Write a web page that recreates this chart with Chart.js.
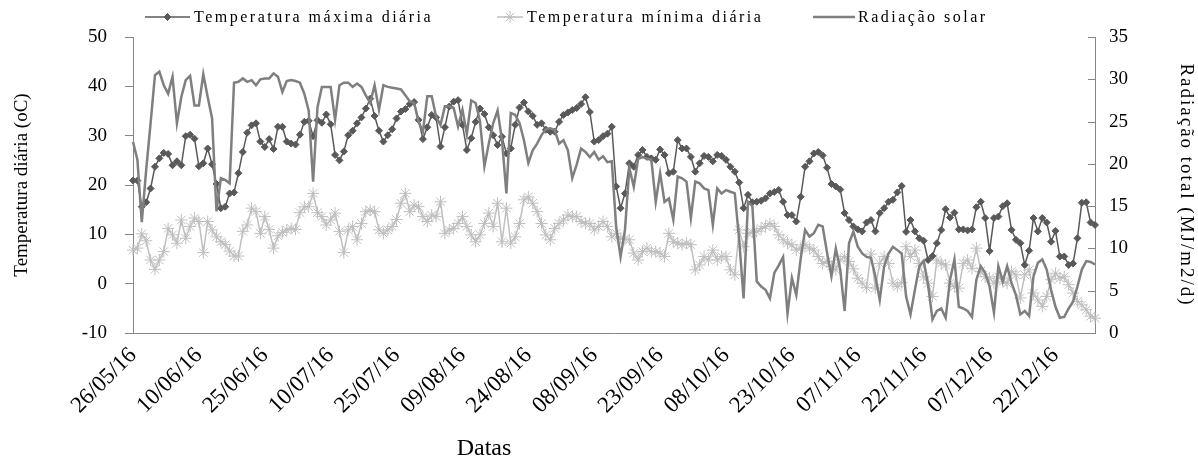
<!DOCTYPE html>
<html>
<head>
<meta charset="utf-8">
<script src="https://cdn.jsdelivr.net/npm/chart.js@4.4.1/dist/chart.umd.min.js"></script>
<style>
html,body{margin:0;padding:0;background:#fff;}
</style>
</head>
<body>
<canvas id="grafico" width="1198" height="458"></canvas>
<script>
// rótulos do eixo x (a cada 15 dias)
const rotulosEixo = ['26/05/16','10/06/16','25/06/16','10/07/16','25/07/16','09/08/16','24/08/16','08/09/16',
  '23/09/16','08/10/16','23/10/16','07/11/16','22/11/16','07/12/16','22/12/16'];

// temperatura máxima diária (oC), 26/05/16 a 31/12/16
const tempMax = [
  20.9,20.9,15.6,16.5,19.3,23.7,25.4,26.5,26.3,24.0,
  24.8,24.0,29.9,30.2,29.4,23.8,24.4,27.4,24.2,20.2,
  15.3,15.6,18.3,18.5,22.4,26.7,30.6,32.1,32.5,28.8,
  27.7,29.3,27.3,31.8,31.8,28.8,28.4,28.2,30.2,32.8,
  33.0,29.9,33.1,32.6,34.3,32.3,26.1,25.0,26.8,30.1,
  31.0,32.5,33.7,35.5,37.5,34.0,31.0,28.8,30.1,31.3,
  33.5,34.9,35.4,36.4,36.8,33.2,29.3,31.7,34.2,33.7,
  27.8,31.7,35.9,36.9,37.2,32.2,27.1,29.5,32.8,35.5,
  34.4,31.7,30.1,28.1,29.8,26.4,27.4,32.2,35.7,36.7,
  34.9,34.0,32.2,32.5,31.2,30.8,30.8,32.8,34.2,34.7,
  35.2,35.6,36.4,37.8,34.8,28.8,29.1,29.9,30.4,31.8,
  19.7,15.3,18.3,24.4,23.7,26.1,27.1,25.7,25.4,25.1,
  27.2,26.1,22.4,22.7,29.1,27.4,27.4,25.7,22.7,24.4,
  25.9,25.7,24.8,26.1,25.9,25.1,23.7,22.7,20.5,15.3,
  18.0,16.5,16.6,16.8,17.3,18.3,18.6,19.0,16.6,13.9,
  13.9,12.6,17.6,23.7,24.8,26.4,26.7,26.0,23.5,20.2,
  19.7,19.1,14.3,12.9,11.6,11.0,10.6,12.4,12.9,10.6,
  14.3,15.3,16.6,17.0,18.5,19.8,10.5,12.9,10.6,9.2,
  8.7,4.8,5.6,8.2,10.9,15.1,13.4,14.4,11.0,11.0,
  10.8,11.0,15.5,16.6,13.3,6.6,13.3,13.6,15.7,16.3,
  10.9,8.9,8.2,3.8,6.7,13.3,10.6,13.3,12.4,8.5,
  10.7,5.5,5.5,3.8,4.1,9.2,16.4,16.5,12.4,11.9
];

// temperatura mínima diária (oC)
const tempMin = [
  6.8,7.2,10.1,8.7,4.8,2.9,4.8,6.5,11.2,9.9,
  8.2,12.9,9.2,11.6,13.3,12.6,6.3,12.6,10.9,9.5,
  8.5,7.9,6.6,5.6,5.6,10.6,11.9,15.3,14.6,10.2,
  13.6,11.0,7.2,9.7,10.4,10.9,11.2,11.0,14.4,15.6,
  15.6,18.3,14.4,13.6,11.9,12.9,14.3,10.6,6.3,10.9,
  11.6,8.9,12.2,14.6,14.9,14.6,10.9,10.2,10.9,11.6,
  13.0,16.3,18.3,14.6,15.9,15.6,13.6,12.6,13.9,13.6,
  16.6,10.2,10.9,11.2,12.2,13.6,11.6,9.9,8.5,9.9,
  12.2,14.3,11.6,16.3,8.5,15.3,8.2,9.5,12.2,17.0,
  17.6,16.3,14.6,12.2,9.9,8.9,11.2,12.2,12.9,13.9,
  13.6,13.6,12.6,12.2,12.2,10.9,11.6,12.6,11.6,9.5,
  10.2,9.2,9.0,8.9,6.2,4.8,6.5,7.2,6.5,6.5,
  6.2,5.5,10.2,8.5,8.2,7.9,8.2,7.9,2.8,3.8,
  5.5,4.8,6.8,4.8,5.5,5.5,2.8,1.8,10.9,7.5,
  10.2,10.4,10.6,11.2,11.6,12.2,11.6,9.9,8.9,8.2,
  7.9,6.8,7.2,7.9,7.2,6.8,5.5,4.1,4.5,3.5,
  2.8,4.8,5.5,4.5,3.0,1.1,0.1,-0.8,6.0,-0.9,
  4.1,5.5,4.1,0.1,-0.6,0.2,7.5,5.5,6.8,4.1,
  1.4,0.1,-2.6,4.8,4.1,3.8,0.1,-0.6,-0.9,4.1,
  4.8,3.1,7.2,2.5,1.4,1.1,0.1,1.4,0.4,0.1,
  2.5,1.8,-2.9,1.8,2.8,-1.9,-3.3,-4.6,-2.6,0.8,
  2.1,1.1,1.4,-0.2,-1.9,-3.6,-4.3,-5.3,-6.6,-7.0
];

// radiação solar total (MJ/m2/d)
const radiacao = [
  22.6,20.5,13.1,19.3,24.8,30.5,30.9,29.3,28.3,30.3,
  24.8,27.9,29.9,30.4,26.9,26.9,30.6,27.9,25.4,14.4,
  18.3,18.1,17.7,29.6,29.7,30.1,29.7,29.9,29.3,30.0,
  30.1,30.1,30.7,30.3,28.5,29.8,29.9,29.8,29.6,28.3,
  26.3,17.9,26.7,29.1,29.1,29.1,25.2,29.3,29.6,29.6,
  29.1,29.5,29.1,28.1,27.2,29.3,26.4,29.3,29.1,29.0,
  28.9,28.8,28.1,27.4,27.2,25.0,23.8,28.0,28.0,25.6,
  24.6,26.8,26.8,26.6,24.4,26.4,23.5,27.5,27.2,25.0,
  19.7,22.4,24.8,26.3,22.8,16.5,26.0,25.8,24.8,22.8,
  20.1,21.6,22.4,23.4,24.1,24.2,24.0,22.4,22.8,21.6,
  18.3,19.9,21.8,21.4,20.8,21.4,20.5,20.9,20.2,20.3,
  12.5,9.0,12.2,19.5,17.3,20.6,20.8,20.6,20.5,15.5,
  18.9,15.5,15.9,13.4,18.5,18.3,17.9,13.6,17.9,17.7,
  17.1,16.9,12.8,17.1,16.5,16.9,16.7,16.5,11.0,4.1,
  15.5,15.0,6.1,5.5,5.1,4.1,7.1,8.0,9.0,2.3,
  6.5,4.5,8.8,12.2,11.4,11.8,12.8,12.6,9.5,6.7,
  10.0,7.5,2.6,10.6,12.0,10.2,9.4,9.0,8.9,6.7,
  3.9,7.9,9.4,10.2,9.8,9.4,4.3,2.2,5.1,7.9,
  8.5,5.7,1.6,2.6,2.9,1.8,6.3,8.7,3.1,2.9,
  2.6,1.9,6.3,7.9,7.1,5.5,2.4,7.9,6.1,7.9,
  5.9,4.5,2.2,2.6,2.0,6.7,8.3,8.7,7.5,5.1,
  3.1,1.8,1.9,2.9,3.7,5.5,7.5,8.5,8.4,8.1
];

// um rótulo por dia, começando em 26/05/16
const datas = tempMax.map((_, i) => {
  const d = new Date(2016, 4, 26 + i);
  const p = n => String(n).padStart(2, '0');
  return p(d.getDate()) + '/' + p(d.getMonth() + 1) + '/' + String(d.getFullYear()).slice(2);
});

const serif = "'Liberation Serif', 'Times New Roman', serif";
const cinzaEixo = '#868686';
Chart.defaults.font.family = serif;
Chart.defaults.color = '#000';

// legenda desenhada à mão: linha + marcador como no Excel
const legenda = {
  id: 'legenda',
  afterDraw(chart) {
    const ctx = chart.ctx;
    const itens = [
      {ds: 0, x0: 145, x1: 190, tx: 194},
      {ds: 1, x0: 497, x1: 523, tx: 527},
      {ds: 2, x0: 813, x1: 855, tx: 858}
    ];
    const y = 17;
    ctx.save();
    itens.forEach(it => {
      const ds = chart.data.datasets[it.ds];
      ctx.strokeStyle = ds.borderColor;
      ctx.lineWidth = ds.borderWidth;
      ctx.beginPath();
      ctx.moveTo(it.x0, y);
      ctx.lineTo(it.x1, y);
      ctx.stroke();
      if (ds.pointRadius > 0) {
        ctx.fillStyle = ds.pointBackgroundColor;
        ctx.strokeStyle = ds.pointBorderColor;
        ctx.lineWidth = ds.pointBorderWidth;
        Chart.helpers.drawPoint(ctx, {pointStyle: ds.pointStyle, radius: ds.pointRadius, borderWidth: ds.pointBorderWidth, rotation: 0}, (it.x0 + it.x1) / 2, y);
      }
      ctx.fillStyle = '#000';
      ctx.font = '16px ' + serif;
      ctx.letterSpacing = '2.5px';
      ctx.textBaseline = 'middle';
      ctx.textAlign = 'left';
      ctx.fillText(ds.label, it.tx, y + 1);
      ctx.letterSpacing = '0px';
    });
    ctx.restore();
  }
};

// marcas do eixo secundário viradas para dentro
const marcasDireita = {
  id: 'marcasDireita',
  afterDatasetsDraw(chart) {
    const s = chart.scales.y2;
    const ctx = chart.ctx;
    ctx.save();
    ctx.strokeStyle = cinzaEixo;
    ctx.lineWidth = 1;
    s.ticks.forEach(t => {
      const py = Math.round(s.getPixelForValue(t.value)) + 0.5;
      ctx.beginPath();
      ctx.moveTo(s.left, py);
      ctx.lineTo(s.left - 7, py);
      ctx.stroke();
    });
    ctx.restore();
  }
};

// títulos fora do padrão: "Datas" deslocado e o eixo da direita espaçado
const titulos = {
  id: 'titulos',
  afterDraw(chart) {
    const ctx = chart.ctx;
    const a = chart.chartArea;
    ctx.save();
    ctx.fillStyle = '#000';
    ctx.textAlign = 'center';
    ctx.font = '24px ' + serif;
    ctx.textBaseline = 'alphabetic';
    ctx.fillText('Datas', 484, 455);
    ctx.translate(1186, (a.top + a.bottom) / 2);
    ctx.rotate(Math.PI / 2);
    ctx.font = '19px ' + serif;
    ctx.letterSpacing = '2px';
    ctx.textBaseline = 'middle';
    ctx.fillText('Radiação total (MJ/m2/d)', 0, 0);
    ctx.restore();
  }
};

new Chart(document.getElementById('grafico'), {
  type: 'line',
  data: {
    labels: datas,
    datasets: [
      {
        label: 'Temperatura máxima diária',
        data: tempMax,
        yAxisID: 'y',
        borderColor: '#595959',
        borderWidth: 1.5,
        pointStyle: 'rectRot',
        pointRadius: 3.5,
        pointBackgroundColor: '#595959',
        pointBorderColor: '#595959',
        pointBorderWidth: 1,
        tension: 0,
        order: 2
      },
      {
        label: 'Temperatura mínima diária',
        data: tempMin,
        yAxisID: 'y',
        borderColor: '#BFBFBF',
        borderWidth: 1.5,
        pointStyle: 'star',
        pointRadius: 6,
        pointBackgroundColor: '#BFBFBF',
        pointBorderColor: '#BFBFBF',
        pointBorderWidth: 1,
        tension: 0,
        order: 3
      },
      {
        label: 'Radiação solar',
        data: radiacao,
        yAxisID: 'y2',
        borderColor: '#7F7F7F',
        borderWidth: 2.5,
        pointRadius: 0,
        tension: 0,
        order: 1
      }
    ]
  },
  options: {
    responsive: false,
    animation: false,
    events: [],
    layout: {padding: {top: 37, left: 0, right: 0, bottom: 0}},
    plugins: {legend: {display: false}, tooltip: {enabled: false}},
    scales: {
      x: {
        offset: false,
        grid: {display: false, drawTicks: false},
        border: {display: true, color: cinzaEixo, width: 1},
        ticks: {
          autoSkip: false,
          maxRotation: 45,
          minRotation: 45,
          padding: 9,
          font: {size: 23},
          callback: (v, i) => rotulosEixo.includes(datas[i]) ? datas[i] : null
        },
        title: {display: false},
        afterFit: s => { s.height = 125; }
      },
      y: {
        position: 'left',
        min: -10, max: 50,
        grid: {drawOnChartArea: false, drawTicks: true, tickLength: 8, color: cinzaEixo},
        border: {display: true, color: cinzaEixo, width: 1},
        ticks: {stepSize: 10, padding: 18, font: {size: 19}},
        title: {display: true, text: 'Temperatura diária (oC)', font: {size: 19}, padding: {top: 11}},
        afterFit: s => { s.width = 133; }
      },
      y2: {
        position: 'right',
        min: 0, max: 35,
        grid: {drawOnChartArea: false, drawTicks: false},
        border: {display: true, color: cinzaEixo, width: 1},
        ticks: {stepSize: 5, padding: 14, font: {size: 19}},
        title: {display: false},
        afterFit: s => { s.width = 103; }
      }
    }
  },
  plugins: [legenda, marcasDireita, titulos]
});
</script>
</body>
</html>
